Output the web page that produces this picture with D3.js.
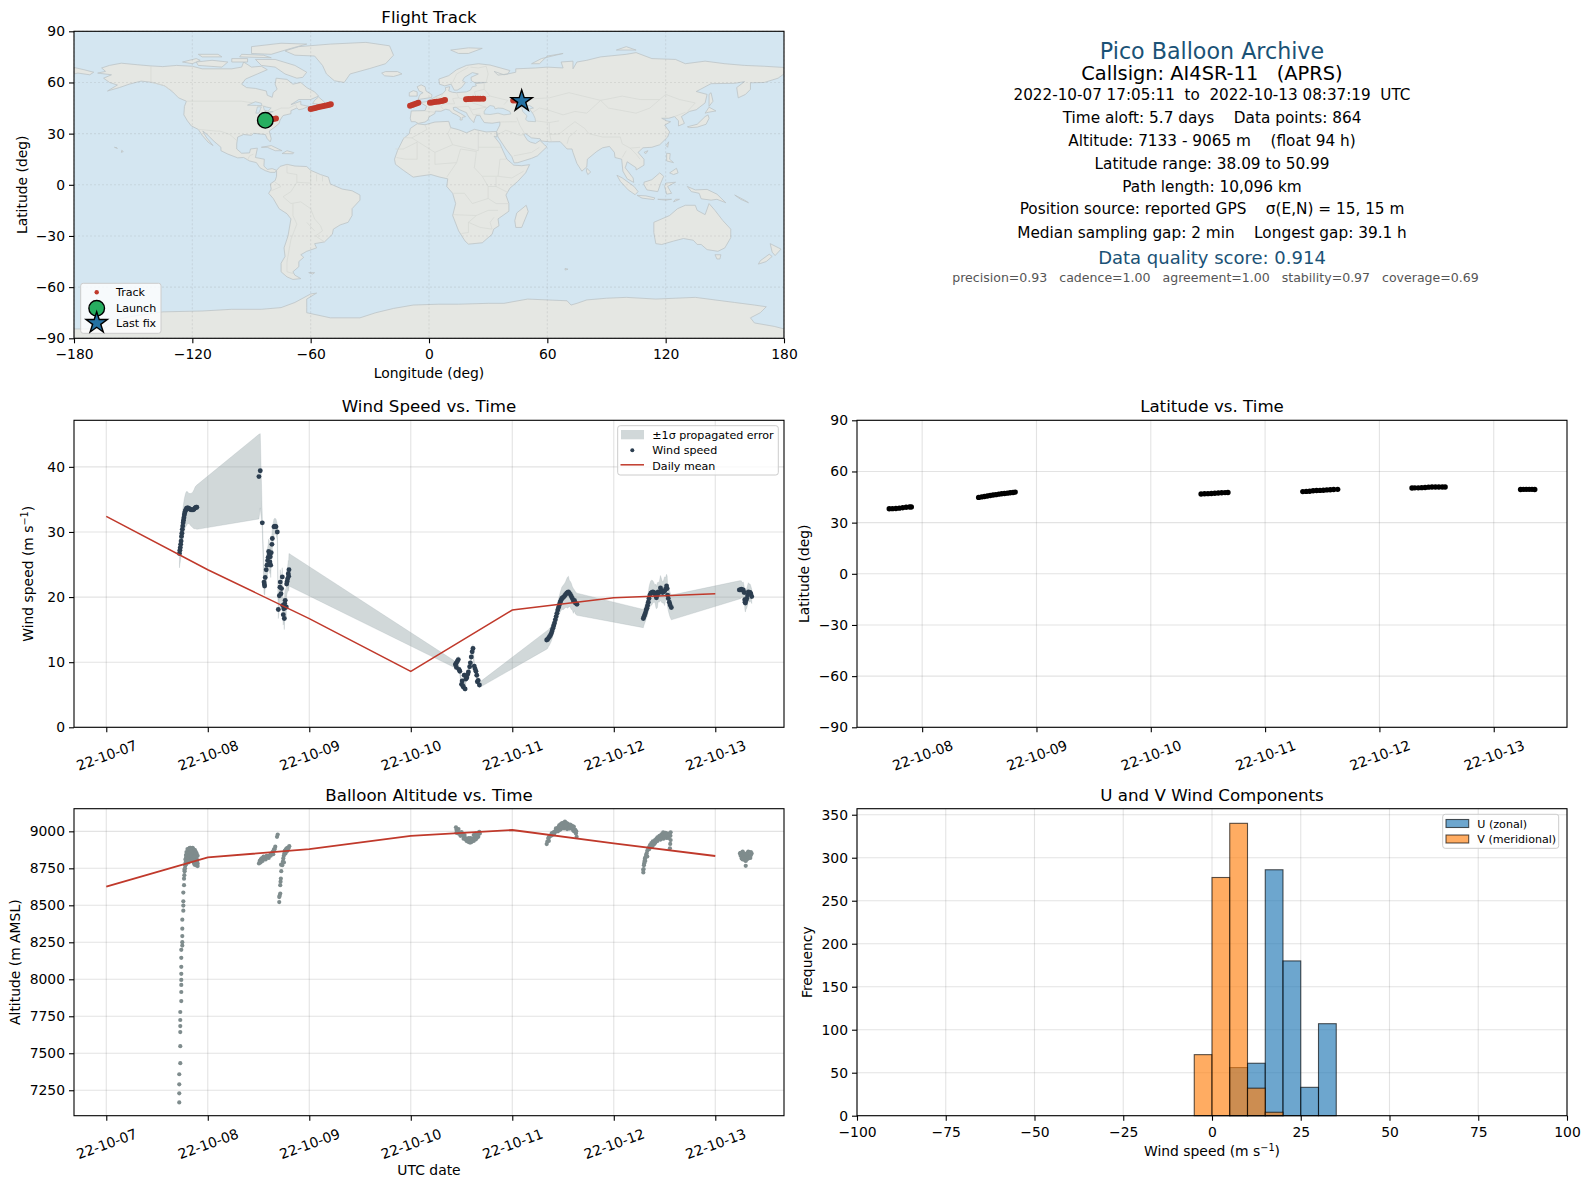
<!DOCTYPE html>
<html>
<head>
<meta charset="utf-8">
<script src="https://cdnjs.cloudflare.com/ajax/libs/d3/7.8.5/d3.min.js"></script>
<style>
  html, body { margin: 0; padding: 0; background: #fff; }
  svg { display: block; }
  text { font-family: "DejaVu Sans", sans-serif; fill: #000; }
</style>
</head>
<body>
<svg id="fig" width="1589" height="1189"></svg>
<script>
// ---- wind speed vs time (days since 22-10-07 00:00 UTC)
var windDays = [
  0.721,0.725,0.729,0.733,0.737,0.741,0.745,0.749,0.753,0.757,0.761,0.765,0.769,0.773,0.778,0.783,0.79,0.797,0.805,0.815,0.825,0.835,0.845,0.855,0.865,0.875,0.885,0.892,
  1.504,1.517,1.537,1.554,1.557,1.56,1.566,1.576,1.583,1.59,1.595,1.6,1.606,1.612,1.616,1.62,1.625,1.632,1.636,1.652,1.662,1.672,1.685,1.695,1.705,1.711,1.714,1.721,1.727,1.734,1.738,1.744,1.749,1.754,1.758,1.763,1.768,1.773,1.777,1.782,1.787,1.793,1.797,1.8,
  3.44,3.445,3.45,3.458,3.468,3.475,3.483,3.5,3.506,3.512,3.518,3.526,3.535,3.543,3.552,3.56,3.568,3.58,3.587,3.596,3.605,3.613,3.625,3.633,3.642,3.65,3.656,3.664,3.676,
  4.339,4.348,4.357,4.366,4.375,4.384,4.392,4.4,4.408,4.416,4.424,4.432,4.44,4.448,4.456,4.464,4.472,4.48,4.488,4.497,4.506,4.516,4.526,4.536,4.546,4.553,4.562,4.572,4.582,4.592,4.602,4.612,4.622,4.637,
  5.291,5.298,5.305,5.312,5.319,5.326,5.333,5.34,5.347,5.356,5.365,5.375,5.385,5.395,5.405,5.415,5.42,5.43,5.437,5.447,5.46,5.47,5.48,5.49,5.5,5.51,5.52,5.526,5.53,5.537,5.547,5.555,5.567,
  6.237,6.247,6.257,6.267,6.276,6.284,6.29,6.293,6.297,6.302,6.31,6.318,6.326,6.335,6.343,6.35,6.359
];
var windSpeed = [
  26.7,27.2,27.6,28.1,28.6,29.3,29.8,30.4,30.9,31.4,31.8,32.2,32.6,32.9,33.2,33.4,33.6,33.7,33.7,33.6,33.5,33.4,33.4,33.4,33.5,33.7,33.8,33.8,
  38.5,39.4,31.4,22.3,22,21.7,23,24.2,24.9,25.6,26.1,27,26.6,25.4,26.2,24.9,26.8,28.1,29,30.8,30.9,30.8,30,18.1,20.2,21.5,22.3,20.5,21.3,23.1,18.7,17.3,18.2,16.7,19,19.5,18.4,18.5,22,22.4,22.8,23.6,23.2,24.2,
  9.6,9.8,9.2,10.1,10.4,8.9,8.6,6.6,7.1,6.4,6.2,8,5.9,7.4,7.6,8.1,8.5,9.3,9.9,10.8,11.6,12.1,9.4,9,8.6,8,7,7.2,6.5,
  13.4,13.5,13.7,13.9,14.1,14.4,14.8,15.2,15.6,16,16.5,17,17.5,18,18.4,18.8,19.2,19.5,19.8,19.9,20,20.2,20.4,20.6,20.7,20.8,20.6,20.4,20.1,19.8,19.4,19.5,19.1,18.9,
  16.7,17,17.3,17.6,18,18.3,18.7,19.2,19.8,20.3,20.6,20.7,20.8,20.7,20.5,20.2,19.9,20.3,20.8,20.7,21.4,21,20.7,20.8,20.9,21.2,21.7,21.3,20.3,19.8,19.2,18.8,18.4,
  21.1,21.1,21.2,21.1,21.1,20.7,19.6,19.2,19.1,19.5,19.8,20.3,20.8,20.6,20.7,20.5,20.1
];
var windErr = [
  2.2,2.2,2.2,2.3,2.3,2.3,2.4,2.4,2.4,2.4,2.5,2.5,2.5,2.5,2.5,2.6,2.6,2.5,2.4,2.3,2.4,2.5,2.6,2.8,3,3.2,3.3,3.4,
  6.5,5.7,1,1.8,1.5,1.4,1.6,1.8,1.9,2,2,1.9,2,1.8,2,1.9,1.9,1.6,1.6,1.2,1.2,1.2,1.2,1.4,1.6,1.6,1.9,1.7,1.7,1.4,1.5,1.6,1.7,1.7,1.6,1.8,1.7,1.8,1.8,1.8,1.9,2,2.3,2.5,
  0.5,0.5,0.5,0.5,0.5,0.5,0.5,0.5,0.5,0.5,0.5,0.5,0.5,0.5,0.5,0.5,0.5,0.5,0.6,0.6,0.6,0.6,0.6,0.6,0.5,0.5,0.5,0.5,0.4,
  1.4,1.4,1.3,1.3,1.2,1.2,1.2,1.1,1.1,1.1,1.2,1.2,1.2,1.3,1.3,1.4,1.5,1.6,1.7,1.8,1.9,1.9,2,2.2,2.4,2.4,2,2,2,1.8,1.9,1.6,1.7,1.7,
  1.4,1.3,1.3,1.3,1.3,1.4,1.4,1.5,1.7,1.8,1.9,1.9,1.7,1.5,1.3,1.8,1.7,1.9,1.5,1.5,1.9,1.8,1.6,1.7,2.2,1.8,1.8,1.9,1.8,1.9,1.9,1.9,1.9,
  1.4,1.4,1.3,1.1,1.2,1,1.2,1.3,1.4,1.4,1.5,1.5,1.4,1.4,1.3,1.2,1.1
];
var dailyDays = [0,1,2,3,4,5,6];
var windDaily = [32.4,24.2,16.7,8.6,18,19.9,20.5];

// ---- latitude vs time
var latDays = [
  0.712,0.74,0.77,0.8,0.83,0.86,0.89,0.905,
  1.494,1.52,1.545,1.57,1.595,1.62,1.645,1.67,1.695,1.72,1.745,1.77,1.795,1.814,
  3.44,3.47,3.5,3.53,3.56,3.59,3.62,3.65,3.675,
  4.33,4.36,4.39,4.42,4.45,4.48,4.51,4.54,4.57,4.6,4.635,
  5.285,5.31,5.34,5.37,5.4,5.43,5.46,5.49,5.52,5.55,5.575,
  6.235,6.26,6.285,6.31,6.335,6.359
];
var latDeg = [
  38.1,38.2,38.3,38.5,38.7,39,39.2,39.2,
  44.8,45.1,45.3,45.6,45.9,46.2,46.4,46.7,46.9,47.1,47.3,47.5,47.7,47.9,
  46.8,46.9,47,47.1,47.2,47.4,47.5,47.6,47.7,
  48.2,48.3,48.4,48.7,48.8,48.9,49,49.2,49.3,49.4,49.5,
  50.3,50.4,50.4,50.5,50.6,50.8,50.9,50.9,50.9,50.9,50.9,
  49.4,49.5,49.5,49.5,49.5,49.4
];

// ---- altitude vs time
var altDays = [
  0.719,0.719,0.719,0.719,0.729,0.729,0.729,0.729,0.729,0.729,0.739,0.739,0.739,0.739,0.739,0.739,0.739,0.739,0.749,0.749,0.749,0.749,0.749,0.759,0.759,0.759,0.759,0.766,0.766,0.769,0.772,0.775,0.778,0.782,0.785,0.79,0.794,0.798,0.803,0.808,0.813,0.818,0.824,0.83,0.838,0.846,0.851,0.858,0.866,0.874,0.882,0.89,0.9,0.77,0.78,0.79,0.8,0.81,0.82,0.83,0.84,0.85,0.86,0.87,0.88,0.885,0.892,0.9,
  0.78,0.79,0.8,0.81,0.82,0.83,0.84,0.85,0.86,0.87,0.88,0.89,0.875,0.865,0.855,0.845,0.835,0.825,0.815,0.805,0.795,0.785,0.87,0.885,0.9,0.895,0.88,0.865,
  1.504,1.512,1.522,1.531,1.545,1.563,1.575,1.59,1.606,1.62,1.639,1.652,1.665,1.682,1.689,1.704,1.704,1.708,1.714,1.714,1.717,1.72,1.724,1.722,1.734,1.74,1.744,1.749,1.754,1.76,1.77,1.777,1.79,1.803,
  1.52,1.54,1.55,1.57,1.58,1.6,1.62,1.63,1.645,1.66,1.75,1.765,1.78,1.795,
  3.445,3.45,3.458,3.47,3.485,3.502,3.515,3.534,3.55,3.566,3.58,3.6,3.615,3.632,3.65,3.665,3.675,3.49,3.52,3.55,3.59,3.62,3.64,
  3.46,3.47,3.49,3.5,3.52,3.54,3.56,3.58,3.6,3.62,3.64,3.66,3.68,3.45,3.53,3.57,3.61,3.65,3.59,
  4.339,4.345,4.355,4.365,4.388,4.4,4.41,4.425,4.437,4.45,4.462,4.475,4.487,4.5,4.519,4.53,4.545,4.562,4.58,4.595,4.607,4.62,4.627,4.634,4.36,4.39,4.42,4.45,4.48,4.51,4.54,4.57,4.6,
  4.36,4.38,4.41,4.43,4.46,4.47,4.49,4.52,4.55,4.57,4.6,4.61,4.63,4.5,4.54,4.44,4.53,4.56,4.59,
  5.291,5.294,5.297,5.3,5.303,5.307,5.312,5.318,5.324,5.33,5.34,5.35,5.357,5.37,5.385,5.406,5.42,5.44,5.455,5.47,5.487,5.5,5.51,5.53,5.56,5.558,5.56,5.556,5.553,5.4,5.43,5.46,5.49,5.52,
  5.29,5.31,5.33,5.35,5.37,5.39,5.41,5.43,5.45,5.47,5.49,5.51,5.53,5.55,5.5,5.54,5.38,5.42,5.46,5.52,
  6.243,6.25,6.26,6.27,6.28,6.293,6.3,6.31,6.325,6.34,6.358,6.325,6.31,6.29,6.27,6.26,6.345,
  6.25,6.26,6.28,6.3,6.31,6.32,6.335,6.35,6.3,6.28,6.27,6.35,6.29,6.33,6.345
];
var altMeters = [
  7168,7229,7290,7358,7433,7548,7643,7684,7725,7779,7853,7914,7962,7996,8037,8084,8145,8199,8228,8251,8292,8342,8403,8464,8498,8527,8586,8636,8680,8704,8730,8750,8771,8790,8817,8830,8840,8851,8860,8870,8878,8885,8888,8889,8885,8880,8889,8880,8873,8873,8860,8851,8835,8740,8770,8785,8800,8790,8810,8800,8830,8800,8820,8800,8790,8815,8780,8783,
  8810,8860,8880,8850,8860,8875,8860,8850,8850,8840,8830,8815,8800,8785,8815,8830,8840,8830,8820,8810,8820,8840,8775,8770,8765,8800,8845,8830,
  8783,8800,8810,8817,8821,8821,8825,8832,8835,8848,8862,8878,8896,8963,8978,8522,8556,8565,8579,8636,8660,8681,8731,8775,8771,8795,8817,8835,8851,8870,8878,8885,8890,8900,
  8790,8800,8830,8810,8835,8820,8835,8850,8845,8880,8790,8850,8865,8885,
  9027,9010,8997,8985,8990,8986,8975,8957,8945,8929,8940,8929,8945,8963,8955,8963,8997,8970,8950,8935,8955,8975,8985,
  9005,9015,8985,8995,8965,8945,8945,8925,8945,8935,8945,8980,8985,8990,8975,8955,8950,8975,8925,
  8914,8930,8952,8965,8986,8990,8995,9003,9009,9025,9040,9048,9054,9058,9065,9058,9052,9038,9040,9036,9031,9010,8986,8963,8935,8975,8992,9000,9015,9020,9030,9020,9005,
  8960,8970,8980,9020,9030,9010,9040,9050,9030,9045,9015,9000,9000,9030,9015,9005,9040,9020,9025,
  8722,8745,8771,8785,8800,8817,8825,8840,8851,8868,8885,8895,8907,8920,8932,8941,8950,8958,8963,8980,8993,8980,8975,8985,8993,8970,8941,8915,8885,8915,8935,8945,8950,8955,
  8740,8800,8830,8880,8900,8915,8925,8960,8970,8965,8975,8990,8965,8985,8960,8955,8900,8935,8945,8975,
  8851,8835,8817,8830,8815,8805,8767,8810,8817,8835,8851,8863,8840,8830,8863,8850,8835,
  8855,8835,8840,8830,8845,8855,8835,8840,8800,8820,8810,8860,8850,8825,8820
];
var altDaily = [8626,8824,8880,8969,9009,8919,8833];

// ---- flight track on the map
var trackLon = [
  -83,-81.5,-80,-78.8,-77.6,
  -60,-58.8,-57.6,-56.4,-55.2,-54,-52.8,-51.6,-50.6,-49.8,
  -9.6,-8.5,-7.5,-6.4,-5.4,
  0.5,1.6,2.8,4,5.2,6.4,7.4,8.1,
  18.8,20,21.2,22.4,23.6,24.8,26,27.5,
  42.7,44,45.5,47
];
var trackLat = [
  37.8,38,38.3,38.6,38.8,
  44.4,44.7,45,45.4,45.7,46,46.4,46.7,47,47.2,
  46.4,46.8,47.2,47.7,48.1,
  48.1,48.3,48.5,48.7,48.9,49.1,49.4,49.7,
  50.1,50.3,50.3,50.4,50.4,50.5,50.5,50.5,
  49.5,49.5,49.3,49.1
];
var launchLon = -83, launchLat = 37.8;
var lastLon = 47, lastLat = 49.1;

// ---- histogram
var histEdges = d3.range(-100, 101, 5);
var uCounts = [0,0,0,0,0,0,0,0,0,0,0,0,0,0,0,0,0,0,0,0,0,56,61,286,180,33,107,0,0,0,0,0,0,0,0,0,0,0,0,0];
var vCounts = [0,0,0,0,0,0,0,0,0,0,0,0,0,0,0,0,0,0,0,71,277,340,32,4,0,0,0,0,0,0,0,0,0,0,0,0,0,0,0,0];

// ---- tick labels
var lonTicks = [-180,-120,-60,0,60,120,180];
var latTicks = [-90,-60,-30,0,30,60,90];
var windTicks = [0,10,20,30,40];
var altTicks = [7250,7500,7750,8000,8250,8500,8750,9000];
var histXTicks = [-100,-75,-50,-25,0,25,50,75,100];
var histYTicks = [0,50,100,150,200,250,300,350];

// ---- info block
var infoLines = [
  "Pico Balloon Archive",
  "Callsign: AI4SR-11   (APRS)",
  "2022-10-07 17:05:11  to  2022-10-13 08:37:19  UTC",
  "Time aloft: 5.7 days    Data points: 864",
  "Altitude: 7133 - 9065 m    (float 94 h)",
  "Latitude range: 38.09 to 50.99",
  "Path length: 10,096 km",
  "Position source: reported GPS    \u03c3(E,N) = 15, 15 m",
  "Median sampling gap: 2 min    Longest gap: 39.1 h",
  "Data quality score: 0.914",
  "precision=0.93   cadence=1.00   agreement=1.00   stability=0.97   coverage=0.69"
];

// ---- land outlines, lon/lat
var northAmerica = [[-168,65.5],[-164,66.5],[-166,68.5],[-162,70],[-156,71.3],[-148,70.4],[-141,69.7],[-135,69.3],[-128,70],[-120,69.5],[-115,68],[-108,68],[-100,68],[-95,69],[-94,72],[-90,69],[-85,69.5],[-82,67.5],[-87,65],[-93,62],[-95,59],[-92.5,57],[-88,56.5],[-82.5,55],[-82,52.5],[-79.5,51.3],[-79,54],[-77,56],[-78,59],[-77.5,62.5],[-72,61.8],[-69,59],[-65,60],[-62,57],[-58,54.5],[-56,52],[-60,50],[-66,50],[-70,47],[-65,49],[-65,47],[-61,46],[-64,44.5],[-66,44],[-67,45],[-70,43.5],[-70,41.7],[-74,40.6],[-75.5,38],[-76,36],[-78,34],[-81,31.5],[-80,27],[-80.5,25.2],[-82,27],[-83,29.5],[-85,29.7],[-89,30.2],[-90,29],[-94,29.5],[-97,28],[-97.5,24],[-97.5,21],[-95,18.5],[-91,18.7],[-90.5,21],[-87,21.5],[-88,16],[-83.5,15],[-83.7,11],[-82,9],[-79.5,9.5],[-77.3,8.5],[-78,7.3],[-80.5,7.3],[-83,8.3],[-85.7,10],[-87.5,13],[-91,14],[-94,16],[-97,15.8],[-102,18],[-105.5,20],[-105.5,22],[-109,25.5],[-112.5,29.5],[-114.7,31.5],[-113,28],[-109.5,23],[-112,25],[-115,29],[-117,32.5],[-120.5,34.5],[-122.5,37.5],[-124.3,41],[-124,46],[-123,49],[-127,51],[-130,54.5],[-134,58],[-140,60],[-146,60.8],[-152,59],[-157,57],[-163,55],[-158,58.5],[-162,60],[-165,62.5],[-161,64.5]];
var southAmerica = [[-77.3,8.5],[-75.5,10.8],[-72,12],[-68,11],[-62,10.7],[-60,8.5],[-55,6],[-51,4.5],[-50,0.5],[-44,-2.5],[-39,-3.5],[-35,-6],[-35,-9],[-39,-14],[-39,-18],[-41,-22],[-45,-23.5],[-48.5,-26],[-49,-29],[-53,-33.5],[-58,-34.5],[-57,-37],[-62,-39],[-65,-41],[-63.5,-42.5],[-66,-45],[-66,-48],[-69,-51],[-68,-53],[-65,-55],[-69,-55.5],[-72,-54],[-75,-51],[-75,-46],[-73,-42],[-73.5,-37],[-71.5,-30],[-70,-20],[-72,-17],[-76,-14],[-79,-8],[-81.3,-5],[-80,-2.5],[-80.5,0.5],[-78,2.5],[-77.3,5]];
var africa = [[-6,35.8],[-2,35.2],[3,36.8],[10,37.2],[11,33.5],[15,32.3],[19,30.5],[23,32.5],[29,31],[32.5,31.2],[34.3,31.2],[34.4,28],[33,28.5],[36,24],[37.5,20],[39.5,15],[43,11.5],[47,11.2],[51,11.8],[49,7],[45,2],[41,-2],[39,-6],[40.5,-11],[40.5,-15.5],[35,-20],[35.5,-24],[32.8,-26],[32,-29],[27,-34],[20,-34.8],[18.3,-33],[15,-27],[12,-18],[13.5,-11],[12,-5],[9,-1],[9.5,3.5],[5.5,4.5],[1,6],[-4,5.2],[-8,4.5],[-13,8.5],[-17,12],[-17.5,15],[-16,20],[-13,27],[-10,30],[-9.5,33]];
var eurasia = [[-9,37],[-9.5,39],[-9,43.3],[-2,43.5],[-1.2,46],[-4.5,48.3],[-1.5,48.7],[1.5,50.5],[4,52],[7,53.5],[8.5,55.5],[8.3,57],[10.5,57.5],[10,55],[12,54.2],[14,54],[19,54.5],[21,55.5],[22,57.5],[24,58],[23.5,59.3],[29,60],[23,60],[21.5,61],[21.3,63],[25,65],[22,65.8],[18,63],[17,61],[18.5,60],[16.5,57],[14.3,55.5],[12.8,55.5],[11.2,59],[8,58],[5.3,59],[5,62],[10,64],[14,67.5],[19,70],[25,71],[31,70.2],[41,67],[40,65],[35,64.3],[33,66.5],[38,64.5],[44,66],[44,68],[54,68.5],[60,69],[68,68.5],[67,72],[73,72.5],[73,68],[75,72],[80,73],[87,75],[100,76.5],[105,77.5],[113,74],[125,73.5],[130,71],[140,72.5],[150,71],[160,70],[170,69.5],[180,68.8],[180,65],[177,62.5],[170,60],[163,59.8],[163,56],[160.5,53],[156.8,51],[156,57],[160,60.5],[155,59.5],[143,59.3],[135.5,54.7],[141,53],[140,48],[135.5,44],[132,43],[128,40],[129.5,36],[126.5,34.5],[126.5,37.5],[124.5,40],[121.5,39],[118,39],[120.5,37.5],[122.5,37],[119.5,35],[122,31],[121,28],[117,23.5],[113,22],[108.5,21.7],[106,19],[109,15],[109,11.5],[105,8.7],[105,10],[100.5,13.5],[99.5,10],[103.5,4],[103.8,1.4],[100.5,3.5],[98.3,8],[97.7,15],[94.3,16],[94,19],[91.5,22.5],[88,21.7],[85,19.5],[80.3,15],[80,10.5],[77.5,8],[75,12.5],[73,19],[72.5,21],[70,21],[68,23.5],[66.5,25.3],[61,25.2],[57,25.7],[56.3,27],[52,27.5],[49,30],[48,29.5],[50,26],[51.5,25],[54,24.2],[56.3,26],[58.5,23.5],[59.8,22.3],[55,17],[52,15.5],[45,13],[43.2,12.8],[42,16.5],[39,21],[35,28],[34.3,31.3],[35.9,35],[36,36.8],[32,36.1],[28,36.5],[26.3,39.5],[26,40.5],[24,40.7],[23,38],[22.8,36.5],[21,38.5],[19.5,41],[19,42.3],[15.5,44],[13.7,45.5],[12.3,45.3],[12.5,44],[16,41.8],[18.5,40],[16.8,39.5],[16.8,38],[15.7,38],[16,39.5],[14,41],[12,42],[10.3,43.8],[8.5,44.3],[6,43.1],[3.2,43.2],[3,41.8],[0,39.8],[-0.5,38],[-2,36.8],[-5.5,36],[-7,37]];
var chukotkaWest = [[-180,68.8],[-175,67.5],[-170,66],[-172,64.5],[-178,65.5],[-180,65]];
var greenland = [[-73,78.5],[-66,81],[-50,82.5],[-32,83.5],[-20,81.5],[-18,76],[-22,71],[-30,68.2],[-40,65],[-43,60],[-48,61],[-52,65],[-54,70],[-58,75.5],[-68,76]];
var iceland = [[-24,65.5],[-22,66.4],[-16,66.4],[-13.7,65],[-18,63.5],[-22.5,63.9]];
var britain = [[-5.5,50],[1.3,51.2],[1.5,52.8],[-1.5,55],[-2,57.5],[-4,58.6],[-6,57.5],[-5,55],[-3,54],[-4.5,53],[-5,51.7]];
var ireland = [[-10,52],[-6,52],[-6,54.5],[-8,55.2],[-10,54]];
var svalbard = [[11,79],[20,80.3],[27,80],[20,77],[15,77]];
var novayaZemlya = [[52,71],[57,74],[68,77],[60,75.5],[56,71]];
var severnaya = [[95,79],[105,79],[100,81]];
var baffin = [[-62,66],[-68,70],[-78,73.5],[-88,73.5],[-85,70],[-78,69],[-73,65],[-67,62.5],[-64,63]];
var victoriaIs = [[-117,70],[-105,69],[-102,72],[-110,73],[-118,72]];
var banksIs = [[-125,72],[-118,74],[-116,73],[-120,71]];
var ellesmere = [[-90,77],[-80,76.5],[-70,80],[-62,82.5],[-75,83],[-90,81]];
var devonIs = [[-96,75],[-80,74.5],[-84,76],[-95,76.5]];
var melvilleIs = [[-115,75],[-105,75],[-107,76.5],[-117,76.5]];
var princeOfWales = [[-100,72],[-92,72],[-92,74],[-100,74]];
var newfoundland = [[-59,47.7],[-53,46.8],[-53,48.5],[-56,51.5],[-58,49.5]];
var cuba = [[-85,22],[-80,23],[-74.5,20],[-78,20],[-82,22]];
var hispaniola = [[-74.5,18.3],[-69,18.2],[-68.5,18.8],[-72,20]];
var hawaii = [[-156,19],[-155,19.5],[-155.8,20.2]];
var oahu = [[-159.5,22],[-158,21.3],[-158.2,21.7]];
var madagascar = [[49.3,-12],[50.3,-15.7],[47,-25],[44,-25],[43.5,-21],[44.5,-16.5]];
var sriLanka = [[80,9.7],[82,7.5],[80.5,6],[79.8,8]];
var sumatra = [[95.3,5.6],[98,4],[104,-1],[106,-4],[104.5,-5.8],[101,-3],[97,2]];
var java = [[105.5,-6.2],[110,-6.5],[114.5,-7.7],[114,-8.7],[108,-7.8]];
var borneo = [[109,1.5],[113,3],[117,7],[119,5],[117.5,1],[116,-4],[110.5,-3],[109,0]];
var sulawesi = [[120,1],[125,1.5],[121,-1],[123,-5],[120.5,-5.5],[119.5,-1]];
var newGuinea = [[131,-1],[135,-3],[141,-2.7],[146,-5.5],[150.5,-10.5],[146,-8.5],[143,-9],[138,-8.2],[137,-5],[133,-4]];
var solomons = [[155,-6],[160,-9],[162,-10.5],[158,-8.5]];
var luzon = [[120.5,18.5],[122.3,18.3],[122,15],[124,13],[120.5,14]];
var mindanao = [[122,7],[125.5,9.7],[126.3,7],[124,6]];
var timor = [[124,-10],[127,-8.5],[125,-8.5]];
var sunda = [[116,-8.5],[120,-8.5],[123,-8.5],[120,-9]];
var honshu = [[131,34],[136,35.5],[140,40],[141.5,41],[142,39],[140.5,35.5],[136,33.8],[132,33.5]];
var hokkaido = [[140,42],[142,45.5],[145.5,43.3],[141.5,42.5]];
var sakhalin = [[142,46],[144,49],[143,54],[142,53],[142,48]];
var taiwan = [[120.2,23],[121.5,25.2],[121,22]];
var hainan = [[109,19],[111,20],[110,18.3]];
var australia = [[114,-22],[122,-18],[126,-14],[130,-12],[135,-12],[136,-15],[140,-17.5],[142,-11],[145,-15],[149,-21],[153,-26],[153,-31],[150,-37],[146.5,-39],[141,-38],[138,-35],[136,-35],[134,-32.5],[129,-31.5],[124,-33],[118,-35],[115,-34.5],[114,-28]];
var tasmania = [[145,-41],[148,-41],[147.5,-43.5],[146,-43.5]];
var nzNorth = [[173,-34.5],[178.5,-37.7],[175.5,-41.5],[174,-39.5]];
var nzSouth = [[172.5,-40.7],[174,-42],[171,-45],[167,-46.5],[168,-44.5]];
var falklands = [[-61,-51.5],[-58,-51.5],[-59,-52.3]];
var kerguelen = [[69,-49],[70.5,-49.5],[69,-50]];
var antarctica = [[-180,-84.5],[-165,-84.5],[-158,-79],[-150,-77],[-135,-74.5],[-115,-74],[-100,-73],[-85,-73],[-75,-72],[-68,-69],[-60,-64],[-57,-63.5],[-62,-67],[-62,-72],[-62,-75],[-50,-78],[-35,-78],[-27,-75],[-18,-72.5],[-8,-70.5],[5,-70],[15,-70],[30,-69.5],[38,-69.5],[50,-67],[60,-67.5],[70,-68],[72,-70.5],[75,-69.5],[80,-67.5],[90,-66.5],[100,-66],[115,-67],[125,-66.5],[135,-66],[145,-67.5],[155,-69],[165,-70.5],[171,-71.5],[168,-75],[163,-78],[165,-81],[175,-83],[180,-84.5],[180,-90],[-180,-90]];
var landShapes = [northAmerica,southAmerica,africa,eurasia,chukotkaWest,greenland,iceland,britain,ireland,svalbard,novayaZemlya,severnaya,baffin,victoriaIs,banksIs,ellesmere,devonIs,melvilleIs,princeOfWales,newfoundland,cuba,hispaniola,hawaii,oahu,madagascar,sriLanka,sumatra,java,borneo,sulawesi,newGuinea,solomons,luzon,mindanao,timor,sunda,honshu,hokkaido,sakhalin,taiwan,hainan,australia,tasmania,nzNorth,nzSouth,falklands,kerguelen,antarctica];

var blackSea = [[28,41.5],[31,41.2],[35,42],[38,41],[41.5,41.5],[41,43],[37.5,44.8],[35,45],[33.5,44.5],[33,46],[31,46.5],[29,44.8],[28,43]];
var caspian = [[47,45.5],[51,46.5],[53,45],[51,44.5],[52.8,41.5],[53.8,39],[54,37],[50,37.3],[49,38.5],[49.7,40.5],[47.5,43]];
var superior = [[-92,46.7],[-88,48.7],[-85,47.8],[-84.7,46.5],[-87.5,46.5]];
var michigan = [[-87.8,42],[-86.3,42],[-85,45.7],[-87,45.7]];
var huron = [[-84,46],[-80,45],[-81.7,43.2],[-83.5,43.8]];
var erie = [[-83.3,41.7],[-79,42.8],[-79.5,43],[-82.5,42.5]];
var waterShapes = [blackSea,caspian,superior,michigan,huron,erie];

var borderLines = [
  [[-123,49],[-95,49],[-89,48],[-83,46],[-82.5,42.5],[-79,43],[-75,45],[-71,45],[-67.5,47],[-67,45]],
  [[-141,69.7],[-141,60],[-135,58.5],[-130,55]],
  [[-117,32.5],[-108,31.5],[-106,31.5],[-101,29.5],[-97.5,26]],
  [[-92,14.5],[-91,17],[-89,18]],
  [[-72,12],[-72,7],[-67,6],[-67,1.5]],
  [[-60,8],[-60,1],[-67,1.5],[-70,-4],[-74,-7],[-70,-11],[-65,-10],[-60,-14],[-58,-20],[-55,-24],[-54,-27],[-57.5,-30],[-53,-33.5]],
  [[-69,-18],[-67,-23],[-70,-32],[-72,-45],[-72,-51],[-69,-52]],
  [[-69,-11],[-69,-18]],[[-80,-3.5],[-75,-1],[-78,1.5]],[[-62,-22],[-58,-27]],[[-57,6],[-57,2]],[[-54,5.5],[-54,2]],
  [[-13,27.7],[-8.7,27.5],[-1,32.5],[-2,35]],
  [[-8.7,27.5],[3,19],[12,23.5],[9.5,30],[11,33.5]],
  [[12,23.5],[25,20],[25,31.5]],[[25,22],[36.5,22]],
  [[-17,21],[-13,21],[-6,25],[-6,15],[-12,15],[-16.5,16]],
  [[3,19],[3,12],[14,13],[16,21],[24,19.5]],[[14,13],[9,4.5]],
  [[24,19.5],[23,10],[27,5],[35,5],[42,4]],[[35,5],[36,15],[39,15]],[[42,4],[48,8]],
  [[12.5,-5],[18,-5],[22,-11],[30,-8],[30,-1],[27,5]],[[30,-1],[34,-1],[34,4.5]],[[34,-1],[40,-4.5]],[[30,-8],[34,-11],[40.5,-11]],
  [[12,-17.5],[24,-18],[30,-15],[35,-15]],[[24,-18],[20,-22],[20,-28],[16.5,-28.5]],[[20,-22],[26,-25],[32,-26],[31,-22],[33,-19]],
  [[47,50],[61,51],[71,54],[87,49.5]],
  [[87,49.5],[98,52],[107,50],[117,50],[120,53],[127,50],[135,48],[131,43]],
  [[87,49.5],[91,45],[105,42],[112,45],[117,50]],
  [[52,42],[56,45],[60,44],[68,41],[74,43],[80,42],[87,49.5]],
  [[44.5,39.5],[46,35],[48.5,30]],[[61,36.5],[61,31],[62,25.5]],[[54,37.5],[61,36.5],[66,37.5]],
  [[61,29.5],[66,29.8],[70,33.5],[74,37]],[[74,37],[79,33],[81,30],[88,28],[97,28]],[[70,24],[71,28],[75,32]],
  [[97,28],[98,24],[102,21.5],[107,22]],[[98,16],[100,20]],[[102,21.5],[105,18],[107,15]],
  [[35,29.5],[39,32],[46,29],[48,29.5]],[[43,17],[52,19],[56,22]],[[36,36.8],[42,37],[44.5,37]],[[124.5,40],[130,42.5]],
  [[-2,43.3],[3,42.5]],[[2.5,51],[6,49.5],[8,49],[7.5,47.5],[6,46],[7.5,44]],[[14,54],[15,51],[12,50.5],[13,47.5],[10,47.5],[7.5,47.5]],[[7,53.5],[6,51],[2.5,51]],
  [[23,54.5],[24,50.5],[22,49],[15,51]],[[24,50.5],[31,52],[40,49.5],[38,47]],[[23,54.5],[28,56],[28,59.5]],[[28,56],[31,52]],
  [[29,60],[30,65],[29,69.5],[25,68.5],[21,69]],[[20,69],[14,65],[12,60],[11.2,59]],[[22,48],[29,45.5],[22,44],[20,46]],[[13.7,45.5],[20,46],[22.5,41],[26,41.5]]
];

// ---- figure layout
var colL = 74, colR = 857, colW = 710;
var rows = [31.3, 420.3, 808.7];
var axH = 307;
var red = "#c0392b", navy = "#2c3e50", gray = "#7f8c8d";
var t0 = Date.UTC(2022, 9, 7);
function toDate(d) { return new Date(t0 + d * 864e5); }

var svg = d3.select("#fig");
var clipN = 0;

function makeAxes(x0, y0, title) {
  var g = svg.append("g").attr("transform", "translate(" + x0 + "," + y0 + ")");
  clipN++;
  g.append("clipPath").attr("id", "clip" + clipN).append("rect").attr("width", colW).attr("height", axH);
  g.clip = "url(#clip" + clipN + ")";
  g.append("text").attr("x", colW / 2).attr("y", -8).attr("text-anchor", "middle")
    .attr("font-size", "16.67px").text(title);
  return g;
}

function gridLines(g, xs, ys, dash) {
  var grid = g.append("g").attr("stroke", "#808080")
    .attr("stroke-opacity", dash ? 0.16 : 0.22).attr("stroke-width", 1.1);
  if (dash) grid.attr("stroke-dasharray", "2,2");
  grid.selectAll(".gx").data(xs).enter().append("line").attr("x1", function (d) { return d; })
    .attr("x2", function (d) { return d; }).attr("y1", 0).attr("y2", axH);
  grid.selectAll(".gy").data(ys).enter().append("line").attr("y1", function (d) { return d; })
    .attr("y2", function (d) { return d; }).attr("x1", 0).attr("x2", colW);
}

function drawAxes(g, xAxis, yAxis, rotate) {
  var gx = g.append("g").attr("transform", "translate(0," + axH + ")").call(xAxis);
  var gy = g.append("g").call(yAxis);
  [gx, gy].forEach(function (a) {
    a.attr("font-family", null).attr("font-size", null);
    a.select(".domain").remove();
    a.selectAll("line").attr("stroke", "#000").attr("stroke-width", 1.1);
    a.selectAll("text").attr("font-size", "13.9px").attr("fill", "#000");
  });
  if (rotate) {
    gx.selectAll("text").attr("text-anchor", "middle").attr("dy", null)
      .attr("y", 0).attr("dominant-baseline", "central")
      .attr("transform", "translate(0,28) rotate(-20)");
  }
  g.append("rect").attr("width", colW).attr("height", axH).attr("fill", "none")
    .attr("stroke", "#000").attr("stroke-width", 1.1);
}

function xLabel(g, text, dy) {
  g.append("text").attr("x", colW / 2).attr("y", axH + dy).attr("text-anchor", "middle")
    .attr("font-size", "13.9px").html(text);
}
function yLabel(g, text, dx) {
  g.append("text").attr("transform", "translate(" + dx + "," + axH / 2 + ") rotate(-90)")
    .attr("text-anchor", "middle").attr("font-size", "13.9px").html(text);
}
var windUnit = 'Wind speed (m s<tspan dy="-5" font-size="9.7px">\u22121</tspan><tspan dy="5">)</tspan>';

function legendBox(x, y, w, h) {
  svg.append("rect").attr("x", x).attr("y", y).attr("width", w).attr("height", h).attr("rx", 2.5)
    .attr("fill", "#fff").attr("fill-opacity", 0.8).attr("stroke", "#ccc").attr("stroke-width", 1);
}
function legendText(x, y, s) {
  svg.append("text").attr("x", x).attr("y", y).attr("dominant-baseline", "central")
    .attr("font-size", "11.1px").attr("fill", "#000").text(s);
}

// ---- map panel
var gMap = makeAxes(colL, rows[0], "Flight Track");
var xLon = d3.scaleLinear().domain([-180, 180]).range([0, colW]);
var yLat = d3.scaleLinear().domain([-90, 90]).range([axH, 0]);
var geoLine = d3.line().x(function (d) { return xLon(d[0]); }).y(function (d) { return yLat(d[1]); });
var mapG = gMap.append("g").attr("clip-path", gMap.clip);
mapG.append("rect").attr("width", colW).attr("height", axH).attr("fill", "#d4e6f1");
mapG.selectAll(".land").data(landShapes).enter().append("path")
  .attr("d", function (d) { return geoLine(d) + "Z"; })
  .attr("fill", "#e5e7e3").attr("stroke", "#bcc4c6").attr("stroke-width", 0.8).attr("stroke-linejoin", "round");
mapG.selectAll(".border").data(borderLines).enter().append("path")
  .attr("d", geoLine).attr("fill", "none").attr("stroke", "#d6d8d4").attr("stroke-width", 0.7);
mapG.selectAll(".water").data(waterShapes).enter().append("path")
  .attr("d", function (d) { return geoLine(d) + "Z"; })
  .attr("fill", "#d4e6f1").attr("stroke", "#bcc4c6").attr("stroke-width", 0.7);
gridLines(gMap, lonTicks.map(xLon), latTicks.map(yLat), true);
mapG.selectAll(".track").data(trackLon).enter().append("circle")
  .attr("cx", function (d) { return xLon(d); })
  .attr("cy", function (d, i) { return yLat(trackLat[i]); })
  .attr("r", 3).attr("fill", red);
mapG.append("circle").attr("cx", xLon(launchLon)).attr("cy", yLat(launchLat)).attr("r", 7.8)
  .attr("fill", "#27ae60").attr("stroke", "#000").attr("stroke-width", 1.4);
var starPath = d3.symbol().type(d3.symbolStar).size(140)();
mapG.append("path").attr("d", starPath)
  .attr("transform", "translate(" + xLon(lastLon) + "," + yLat(lastLat) + ")")
  .attr("fill", "#2471a3").attr("stroke", "#000").attr("stroke-width", 1.4);
drawAxes(gMap,
  d3.axisBottom(xLon).tickValues(lonTicks).tickSize(5).tickPadding(6),
  d3.axisLeft(yLat).tickValues(latTicks).tickSize(5).tickPadding(4), false);
xLabel(gMap, "Longitude (deg)", 40);
yLabel(gMap, "Latitude (deg)", -47);

legendBox(80.7, 283.3, 80.3, 50);
svg.append("circle").attr("cx", 96.7).attr("cy", 292.3).attr("r", 2.2).attr("fill", red);
svg.append("circle").attr("cx", 96.7).attr("cy", 308.3).attr("r", 7.8).attr("fill", "#27ae60").attr("stroke", "#000").attr("stroke-width", 1.4);
svg.append("path").attr("d", starPath).attr("transform", "translate(96.7,323)").attr("fill", "#2471a3").attr("stroke", "#000").attr("stroke-width", 1.4);
legendText(116, 292.3, "Track");
legendText(116, 308.3, "Launch");
legendText(116, 323, "Last fix");

// ---- info block
var infoSize = [22.2, 19.4, 15.2, 15.3, 15.3, 15.3, 15.3, 15.3, 15.3, 18, 12.55];
var infoY = [50.7, 73, 94.7, 117.8, 141.1, 163.8, 187, 209.4, 232.7, 257.4, 277.6];
var infoColor = ["#1a5276", "#000", "#000", "#000", "#000", "#000", "#000", "#000", "#000", "#1a5276", "#555"];
svg.selectAll(".info").data(infoLines).enter().append("text")
  .attr("x", function (d, i) { return colR + colW / 2 + (i === 10 ? 3.5 : 0); })
  .attr("y", function (d, i) { return infoY[i]; })
  .attr("text-anchor", "middle").attr("dominant-baseline", "central")
  .attr("font-size", function (d, i) { return infoSize[i] + "px"; })
  .style("white-space", "pre")
  .style("fill", function (d, i) { return infoColor[i]; })
  .text(function (d) { return d; });

// ---- wind speed panel
var gWind = makeAxes(colL, rows[1], "Wind Speed vs. Time");
var xWind = d3.scaleUtc().domain([toDate(-0.318), toDate(6.677)]).range([0, colW]);
var yWind = d3.scaleLinear().domain([0, 47.15]).range([axH, 0]);
var dayTicks = d3.utcDay.every(1);
var fmt = d3.utcFormat("%y-%m-%d");
var windTickDates = xWind.ticks(dayTicks);
gridLines(gWind, windTickDates.map(xWind), windTicks.map(yWind), false);
var bandArea = d3.area()
  .x(function (d) { return xWind(toDate(d)); })
  .y0(function (d, i) { return yWind(windSpeed[i] - windErr[i]); })
  .y1(function (d, i) { return yWind(windSpeed[i] + windErr[i]); });
gWind.append("path").attr("d", bandArea(windDays)).attr("fill", "#9aa8ab").attr("fill-opacity", 0.45)
  .attr("stroke", "#9aa8ab").attr("stroke-opacity", 0.3).attr("stroke-width", 0.8);
gWind.selectAll(".w").data(windDays).enter().append("circle")
  .attr("cx", function (d) { return xWind(toDate(d)); })
  .attr("cy", function (d, i) { return yWind(windSpeed[i]); })
  .attr("r", 2.45).attr("fill", navy);
var meanWind = d3.line().x(function (d) { return xWind(toDate(d)); })
  .y(function (d, i) { return yWind(windDaily[i]); });
gWind.append("path").attr("d", meanWind(dailyDays)).attr("fill", "none").attr("stroke", red).attr("stroke-width", 1.5);
drawAxes(gWind,
  d3.axisBottom(xWind).tickValues(windTickDates).tickFormat(fmt).tickSize(5),
  d3.axisLeft(yWind).tickValues(windTicks).tickSize(5).tickPadding(4), true);
yLabel(gWind, windUnit, -41);

legendBox(617.7, 425.7, 160.6, 49.3);
svg.append("rect").attr("x", 621).attr("y", 430).attr("width", 23).attr("height", 9.3).attr("fill", "#9aa8ab").attr("fill-opacity", 0.45);
svg.append("circle").attr("cx", 632.3).attr("cy", 450.3).attr("r", 2).attr("fill", navy);
svg.append("line").attr("x1", 620.5).attr("x2", 644).attr("y1", 464.8).attr("y2", 464.8).attr("stroke", red).attr("stroke-width", 1.5);
legendText(652.3, 435, "\u00b11\u03c3 propagated error");
legendText(652.3, 450.3, "Wind speed");
legendText(652.3, 466, "Daily mean");

// ---- latitude panel
var gLat = makeAxes(colR, rows[1], "Latitude vs. Time");
var xLatT = d3.scaleUtc().domain([toDate(0.43), toDate(6.641)]).range([0, colW]);
var yLatT = d3.scaleLinear().domain([-90, 90]).range([axH, 0]);
var latTickDates = xLatT.ticks(dayTicks);
gridLines(gLat, latTickDates.map(xLatT), latTicks.map(yLatT), false);
gLat.selectAll(".l").data(latDays).enter().append("circle")
  .attr("cx", function (d) { return xLatT(toDate(d)); })
  .attr("cy", function (d, i) { return yLatT(latDeg[i]); })
  .attr("r", 2.7).attr("fill", "#000");
drawAxes(gLat,
  d3.axisBottom(xLatT).tickValues(latTickDates).tickFormat(fmt).tickSize(5),
  d3.axisLeft(yLatT).tickValues(latTicks).tickSize(5).tickPadding(4), true);
yLabel(gLat, "Latitude (deg)", -48);

// ---- altitude panel
var gAlt = makeAxes(colL, rows[2], "Balloon Altitude vs. Time");
var xAlt = xWind;
var yAlt = d3.scaleLinear().domain([7078, 9153]).range([axH, 0]);
gridLines(gAlt, windTickDates.map(xAlt), altTicks.map(yAlt), false);
gAlt.selectAll(".a").data(altDays).enter().append("circle")
  .attr("cx", function (d) { return xAlt(toDate(d)); })
  .attr("cy", function (d, i) { return yAlt(altMeters[i]); })
  .attr("r", 2.1).attr("fill", gray);
var meanAlt = d3.line().x(function (d) { return xAlt(toDate(d)); })
  .y(function (d, i) { return yAlt(altDaily[i]); });
gAlt.append("path").attr("d", meanAlt(dailyDays)).attr("fill", "none").attr("stroke", red).attr("stroke-width", 1.9);
drawAxes(gAlt,
  d3.axisBottom(xAlt).tickValues(windTickDates).tickFormat(fmt).tickSize(5),
  d3.axisLeft(yAlt).tickValues(altTicks).tickSize(5).tickPadding(4).tickFormat(d3.format("d")), true);
xLabel(gAlt, "UTC date", 59);
yLabel(gAlt, "Altitude (m AMSL)", -54);

// ---- histogram panel
var gHist = makeAxes(colR, rows[2], "U and V Wind Components");
var xHist = d3.scaleLinear().domain([-100, 100]).range([0, colW]);
var yHist = d3.scaleLinear().domain([0, 357]).range([axH, 0]);
gridLines(gHist, histXTicks.map(xHist), histYTicks.map(yHist), false);
function drawBars(counts, color) {
  gHist.selectAll(".b" + color.slice(1)).data(counts).enter().append("rect")
    .attr("x", function (d, i) { return xHist(histEdges[i]); })
    .attr("width", function (d, i) { return xHist(histEdges[i + 1]) - xHist(histEdges[i]); })
    .attr("y", function (d) { return yHist(d); })
    .attr("height", function (d) { return axH - yHist(d); })
    .attr("fill", color).attr("fill-opacity", 0.65)
    .attr("stroke", "#000").attr("stroke-opacity", 0.65).attr("stroke-width", 1.1);
}
drawBars(uCounts, "#1f77b4");
drawBars(vCounts, "#ff7f0e");
drawAxes(gHist,
  d3.axisBottom(xHist).tickValues(histXTicks).tickSize(5).tickPadding(6),
  d3.axisLeft(yHist).tickValues(histYTicks).tickSize(5).tickPadding(4), false);
xLabel(gHist, windUnit, 40);
yLabel(gHist, "Frequency", -45);

legendBox(1442.7, 814.3, 116, 34);
svg.append("rect").attr("x", 1446).attr("y", 819.5).attr("width", 22.7).attr("height", 8)
  .attr("fill", "#1f77b4").attr("fill-opacity", 0.65).attr("stroke", "#000").attr("stroke-opacity", 0.65).attr("stroke-width", 1.1);
svg.append("rect").attr("x", 1446).attr("y", 835).attr("width", 22.7).attr("height", 8)
  .attr("fill", "#ff7f0e").attr("fill-opacity", 0.65).attr("stroke", "#000").attr("stroke-opacity", 0.65).attr("stroke-width", 1.1);
legendText(1477.3, 824, "U (zonal)");
legendText(1477.3, 839, "V (meridional)");
</script>
</body>
</html>
